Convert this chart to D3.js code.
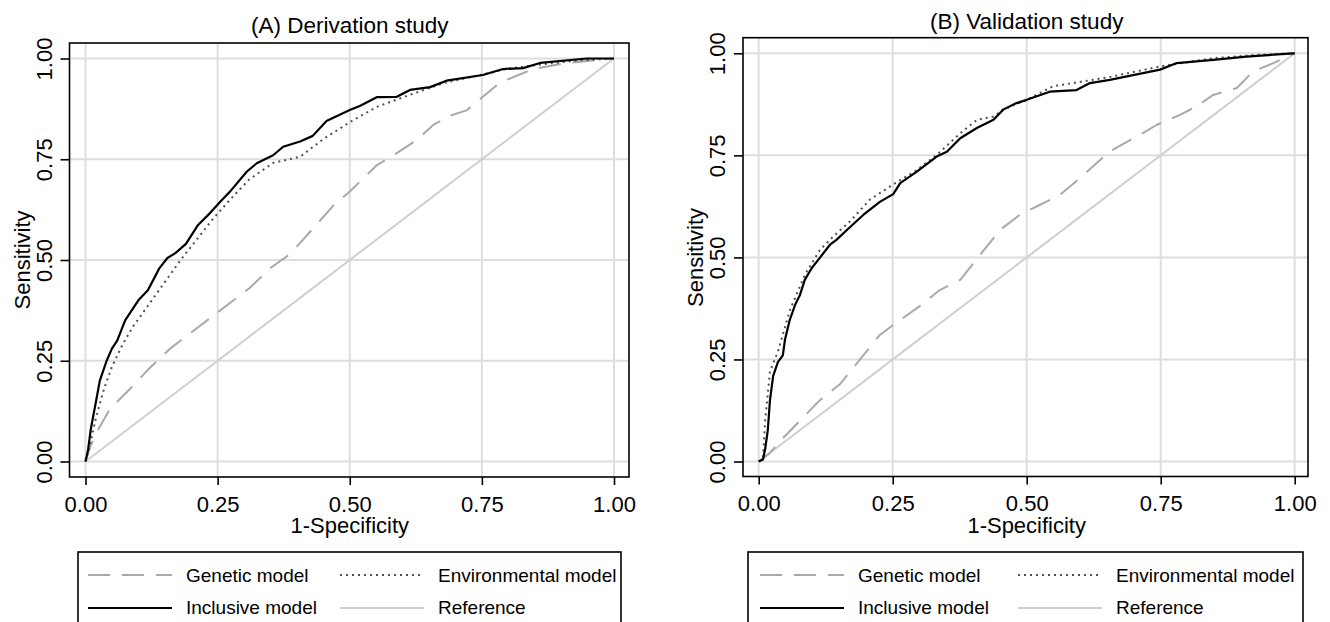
<!DOCTYPE html>
<html>
  <head>
    <script src="https://d3js.org/d3.v7.min.js"></script>
    <style>
      body { margin: 0; background: #fff; }
      text { font-family: "Liberation Sans", Arial, sans-serif; fill: #000; }
    </style>
  </head>
  <body>
    <script>

    // [1-specificity, sensitivity] pairs
    const derivGenetic = [
      [0,0],[0.01,0.04],[0.02,0.07],[0.046,0.13],[0.084,0.18],[0.12,0.23],[0.16,0.28],
      [0.2,0.32],[0.25,0.37],[0.31,0.43],[0.35,0.48],[0.387,0.515],[0.425,0.57],[0.469,0.635],
      [0.5,0.67],[0.551,0.735],[0.589,0.765],[0.627,0.798],[0.658,0.835],[0.69,0.858],
      [0.722,0.872],[0.752,0.905],[0.784,0.94],[0.847,0.974],[0.911,0.989],[1,1]
    ];
    const derivEnvironmental = [
      [0,0],[0.01,0.05],[0.02,0.11],[0.035,0.18],[0.05,0.235],[0.07,0.29],[0.09,0.335],
      [0.12,0.39],[0.15,0.445],[0.18,0.5],[0.21,0.55],[0.24,0.6],[0.273,0.649],[0.31,0.7],
      [0.355,0.741],[0.406,0.756],[0.45,0.8],[0.5,0.842],[0.551,0.88],[0.614,0.91],
      [0.68,0.94],[0.75,0.96],[0.8,0.975],[0.86,0.985],[0.93,0.995],[1,1]
    ];
    const derivInclusive = [
      [0,0],[0.005,0.03],[0.01,0.08],[0.02,0.15],[0.027,0.2],[0.04,0.25],[0.05,0.28],
      [0.06,0.3],[0.075,0.35],[0.09,0.38],[0.1,0.4],[0.118,0.425],[0.13,0.455],[0.14,0.48],
      [0.155,0.505],[0.17,0.517],[0.19,0.54],[0.213,0.587],[0.236,0.617],[0.258,0.649],
      [0.273,0.669],[0.305,0.719],[0.324,0.74],[0.355,0.76],[0.374,0.781],[0.406,0.794],
      [0.43,0.808],[0.456,0.845],[0.5,0.872],[0.519,0.882],[0.551,0.904],[0.589,0.905],
      [0.614,0.922],[0.652,0.929],[0.683,0.945],[0.752,0.959],[0.79,0.974],[0.828,0.976],
      [0.86,0.989],[0.949,1],[1,1]
    ];

    const validGenetic = [
      [0,0],[0.02,0.02],[0.04,0.05],[0.077,0.1],[0.114,0.15],[0.152,0.19],[0.189,0.25],
      [0.226,0.31],[0.264,0.347],[0.3,0.38],[0.338,0.42],[0.376,0.445],[0.413,0.506],
      [0.45,0.567],[0.487,0.604],[0.525,0.629],[0.562,0.653],[0.6,0.695],[0.655,0.76],
      [0.711,0.8],[0.743,0.825],[0.786,0.849],[0.817,0.87],[0.848,0.898],[0.892,0.915],
      [0.922,0.955],[0.96,0.976],[1,1]
    ];
    const validEnvironmental = [
      [0,0],[0.008,0.01],[0.012,0.1],[0.021,0.22],[0.036,0.27],[0.058,0.37],[0.086,0.457],
      [0.114,0.518],[0.142,0.555],[0.17,0.588],[0.207,0.641],[0.25,0.678],[0.295,0.714],
      [0.332,0.751],[0.376,0.804],[0.407,0.837],[0.438,0.845],[0.456,0.862],[0.5,0.886],
      [0.549,0.919],[0.655,0.942],[0.749,0.968],[0.848,0.988],[0.93,0.996],[1,1]
    ];
    const validInclusive = [
      [0,0],[0.008,0.005],[0.012,0.03],[0.017,0.077],[0.021,0.15],[0.027,0.21],[0.036,0.244],
      [0.045,0.26],[0.049,0.298],[0.058,0.347],[0.068,0.384],[0.077,0.408],[0.086,0.445],
      [0.099,0.474],[0.114,0.499],[0.133,0.531],[0.145,0.543],[0.161,0.563],[0.195,0.604],
      [0.226,0.636],[0.251,0.655],[0.264,0.682],[0.295,0.71],[0.332,0.747],[0.351,0.759],
      [0.376,0.792],[0.407,0.817],[0.438,0.837],[0.456,0.862],[0.481,0.878],[0.5,0.886],
      [0.543,0.906],[0.593,0.91],[0.618,0.927],[0.655,0.935],[0.749,0.96],[0.78,0.976],
      [0.848,0.984],[0.91,0.992],[0.997,1],[1,1]
    ];

    const referenceLine = [[0,0],[1,1]];
    const tickValues = [0, 0.25, 0.5, 0.75, 1];
    const panelTitles = ['(A) Derivation study', '(B) Validation study'];
    const legendLabels = ['Genetic model', 'Environmental model', 'Inclusive model', 'Reference'];

    const width = 1330;
    const height = 622;

    const styles = {
      genetic: { stroke: '#a9a9a9', width: 2, dash: '22,12' },
      environmental: { stroke: '#505050', width: 2, dash: '2,4' },
      inclusive: { stroke: '#000', width: 2.2, dash: null },
      reference: { stroke: '#cfcfcf', width: 2, dash: null }
    };

    const svg = d3.select('body')
      .append('svg')
      .attr('width', width)
      .attr('height', height);

    const panels = [
      {
        title: panelTitles[0],
        x: [85.5, 614], y: [461.5, 58.5],
        frame: { l: 69.5, r: 629, t: 43, b: 477 },
        titleY: 33,
        legend: { l: 78, r: 621, col1: 88, col2: 340 },
        series: { genetic: derivGenetic, environmental: derivEnvironmental, inclusive: derivInclusive }
      },
      {
        title: panelTitles[1],
        x: [758.7, 1294.7], y: [461.5, 53.3],
        frame: { l: 743, r: 1308, t: 37.7, b: 476.5 },
        titleY: 29,
        legend: { l: 748, r: 1303, col1: 760, col2: 1018 },
        series: { genetic: validGenetic, environmental: validEnvironmental, inclusive: validInclusive }
      }
    ];

    panels.forEach(p => {
      const xScale = d3.scaleLinear().domain([0, 1]).range(p.x);
      const yScale = d3.scaleLinear().domain([0, 1]).range(p.y);
      const f = p.frame;
      const g = svg.append('g');

      // grid
      g.selectAll('.vgrid').data(tickValues).enter().append('line')
        .attr('x1', d => xScale(d)).attr('x2', d => xScale(d))
        .attr('y1', f.t).attr('y2', f.b)
        .attr('stroke', '#dedede').attr('stroke-width', 2);
      g.selectAll('.hgrid').data(tickValues).enter().append('line')
        .attr('y1', d => yScale(d)).attr('y2', d => yScale(d))
        .attr('x1', f.l).attr('x2', f.r)
        .attr('stroke', '#dedede').attr('stroke-width', 2);

      const line = d3.line()
        .x(d => xScale(d[0]))
        .y(d => yScale(d[1]));

      const curves = [
        ['reference', referenceLine],
        ['genetic', p.series.genetic],
        ['environmental', p.series.environmental],
        ['inclusive', p.series.inclusive]
      ];
      curves.forEach(([key, data]) => {
        const s = styles[key];
        g.append('path')
          .datum(data)
          .attr('d', line)
          .attr('fill', 'none')
          .attr('stroke', s.stroke)
          .attr('stroke-width', s.width)
          .attr('stroke-dasharray', s.dash)
          .attr('stroke-linejoin', 'round');
      });

      // frame
      g.append('rect')
        .attr('x', f.l).attr('y', f.t)
        .attr('width', f.r - f.l).attr('height', f.b - f.t)
        .attr('fill', 'none').attr('stroke', '#000').attr('stroke-width', 1.6);

      const xAxis = d3.axisBottom(xScale)
        .tickValues(tickValues)
        .tickFormat(d3.format('.2f'))
        .tickSize(8)
        .tickPadding(11);
      const gx = g.append('g')
        .attr('transform', `translate(0, ${f.b})`)
        .call(xAxis);
      gx.select('.domain').remove();
      gx.selectAll('line').attr('stroke-width', 1.6);
      gx.selectAll('text').attr('font-size', 22).attr('font-family', '"Liberation Sans", Arial, sans-serif');

      const yAxis = d3.axisLeft(yScale)
        .tickValues(tickValues)
        .tickFormat(d3.format('.2f'))
        .tickSize(9);
      const gy = g.append('g')
        .attr('transform', `translate(${f.l}, 0)`)
        .call(yAxis);
      gy.select('.domain').remove();
      gy.selectAll('line').attr('stroke-width', 1.6);
      gy.selectAll('text')
        .attr('font-size', 22)
        .attr('font-family', '"Liberation Sans", Arial, sans-serif')
        .attr('x', 0).attr('dy', null)
        .attr('text-anchor', 'middle')
        .attr('transform', 'translate(-18,0) rotate(-90)');

      // titles
      const cx = (p.x[0] + p.x[1]) / 2;
      g.append('text')
        .attr('x', cx).attr('y', p.titleY)
        .attr('text-anchor', 'middle')
        .attr('font-size', 22.5)
        .text(p.title);
      g.append('text')
        .attr('x', cx).attr('y', 533)
        .attr('text-anchor', 'middle')
        .attr('font-size', 22)
        .text('1-Specificity');
      g.append('text')
        .attr('transform', `translate(${f.l - 40}, ${(p.y[0] + p.y[1]) / 2}) rotate(-90)`)
        .attr('text-anchor', 'middle')
        .attr('font-size', 22)
        .text('Sensitivity');

      // legend
      const L = p.legend;
      g.append('rect')
        .attr('x', L.l).attr('y', 552)
        .attr('width', L.r - L.l).attr('height', 100)
        .attr('fill', 'none').attr('stroke', '#000').attr('stroke-width', 1.6);
      const items = [
        { key: 'genetic', col: L.col1, row: 0 },
        { key: 'environmental', col: L.col2, row: 0 },
        { key: 'inclusive', col: L.col1, row: 1 },
        { key: 'reference', col: L.col2, row: 1 }
      ];
      items.forEach((it, i) => {
        const s = styles[it.key];
        const ly = it.row === 0 ? 575 : 608;
        g.append('line')
          .attr('x1', it.col).attr('x2', it.col + 84)
          .attr('y1', ly).attr('y2', ly)
          .attr('stroke', s.stroke)
          .attr('stroke-width', s.width)
          .attr('stroke-dasharray', s.dash);
        g.append('text')
          .attr('x', it.col + 98)
          .attr('y', it.row === 0 ? 582 : 614)
          .attr('font-size', 19)
          .text(legendLabels[i]);
      });
    });

      </script>
  </body>
</html>
